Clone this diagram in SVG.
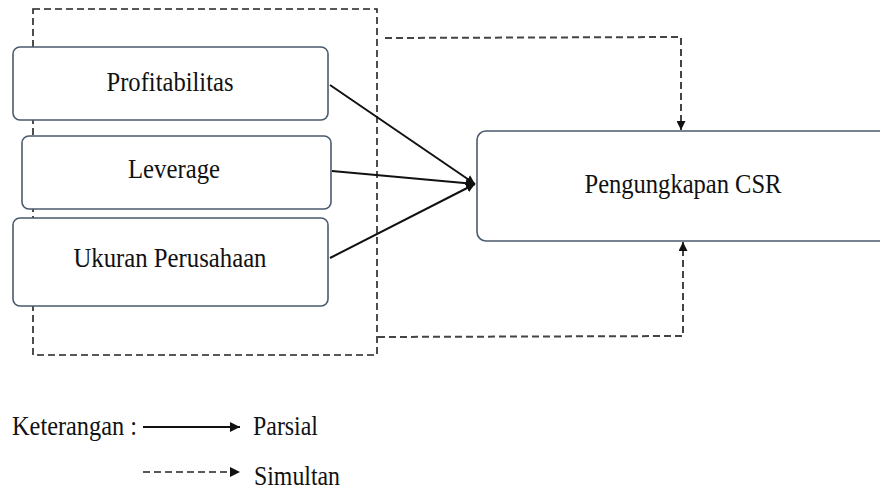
<svg xmlns="http://www.w3.org/2000/svg" width="880" height="490" viewBox="0 0 880 490">
<defs>
<style>
.node{fill:#fff;stroke:#4b5a6e;stroke-width:1.6}
.lbl{font-family:"Liberation Serif","DejaVu Serif",serif;font-size:27px;fill:#111}
.solid{stroke:#111;stroke-width:2;fill:none}
.dash{stroke:#222;stroke-width:1.6;fill:none;stroke-dasharray:7 4}
.dashg{stroke:#444;stroke-width:2;fill:none;stroke-dasharray:7 4}
</style>
<marker id="ah" viewBox="0 0 10 10" refX="10" refY="5" markerWidth="9" markerHeight="9" markerUnits="userSpaceOnUse" orient="auto">
<path d="M0,0 L10,5 L0,10 z" fill="#111"/>
</marker>
<marker id="ahs" viewBox="0 0 10 10" refX="10" refY="5" markerWidth="10" markerHeight="10" markerUnits="userSpaceOnUse" orient="auto">
<path d="M0,0 L10,5 L0,10 z" fill="#111"/>
</marker>
</defs>
<rect width="880" height="490" fill="#fff"/>
<g id="group-box">
<rect x="33" y="9" width="344" height="346" class="dash"/>
</g>
<g id="n-profitabilitas">
<rect x="13" y="47" width="315" height="73" rx="7" class="node"/>
<text x="170" y="91" class="lbl" text-anchor="middle" textLength="127" lengthAdjust="spacingAndGlyphs">Profitabilitas</text>
</g>
<g id="n-leverage">
<rect x="22" y="136" width="309" height="73" rx="7" class="node"/>
<text x="174" y="178" class="lbl" text-anchor="middle" textLength="92" lengthAdjust="spacingAndGlyphs">Leverage</text>
</g>
<g id="n-ukuran">
<rect x="13" y="218" width="315" height="88" rx="7" class="node"/>
<text x="170" y="267" class="lbl" text-anchor="middle" textLength="193" lengthAdjust="spacingAndGlyphs">Ukuran Perusahaan</text>
</g>
<g id="n-csr">
<rect x="477" y="131" width="420" height="110" rx="9" class="node"/>
<text x="683" y="193" class="lbl" text-anchor="middle" textLength="197" lengthAdjust="spacingAndGlyphs">Pengungkapan CSR</text>
</g>
<g id="connectors">
<line x1="330" y1="85" x2="475" y2="184" class="solid" marker-end="url(#ah)"/>
<line x1="332" y1="171" x2="475" y2="184" class="solid" marker-end="url(#ah)"/>
<line x1="330" y1="258" x2="475" y2="184" class="solid" marker-end="url(#ah)"/>
<path d="M385,38 L681,37 L681,130" class="dashg" marker-end="url(#ah)"/>
<path d="M378,337 L683,336 L683,242" class="dashg" marker-end="url(#ah)"/>
</g>
<g id="legend">
<text x="12" y="435" class="lbl" textLength="125" lengthAdjust="spacingAndGlyphs">Keterangan :</text>
<line x1="143" y1="427" x2="240" y2="427" class="solid" marker-end="url(#ahs)"/>
<text x="253" y="435" class="lbl" textLength="65" lengthAdjust="spacingAndGlyphs">Parsial</text>
<line x1="143" y1="472" x2="240" y2="472" class="dash" marker-end="url(#ahs)"/>
<text x="254" y="485" class="lbl" textLength="86" lengthAdjust="spacingAndGlyphs">Simultan</text>
</g>
</svg>
